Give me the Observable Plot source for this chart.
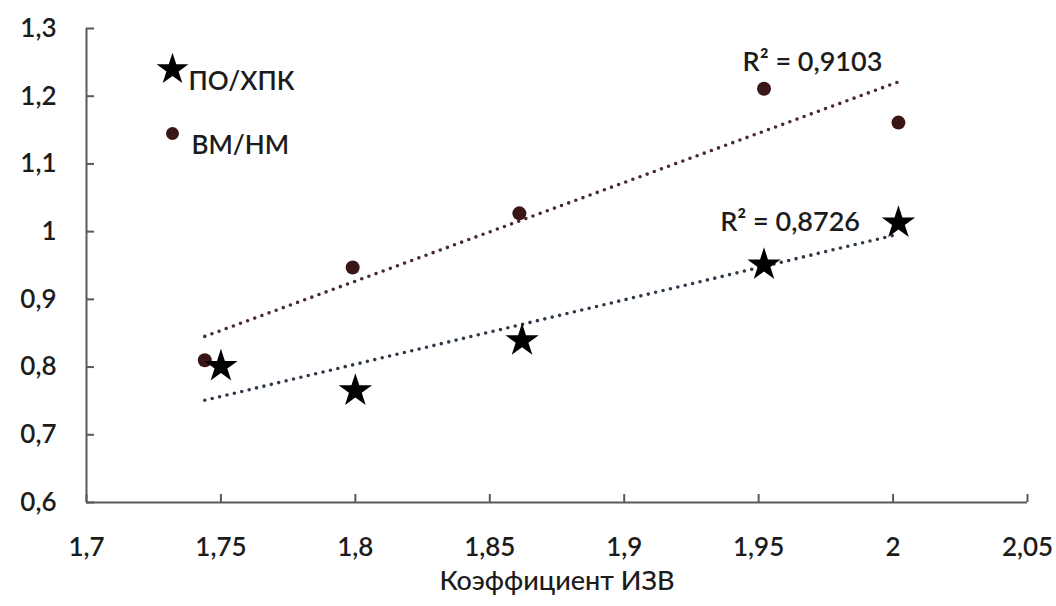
<!DOCTYPE html>
<html><head><meta charset="utf-8">
<script src="https://cdn.jsdelivr.net/npm/d3@7"></script>
<script src="https://cdn.jsdelivr.net/npm/@observablehq/plot@0.6"></script>
<style>body{margin:0;background:#fff}</style>
</head><body><div id="chart"></div>
<script>
// Data
const seriesNames = ["ПО/ХПК", "ВМ/НМ"];
const xPO = [1.750, 1.800, 1.862, 1.952, 2.002];
const yPO = [0.801, 0.765, 0.839, 0.951, 1.013];
const xBM = [1.744, 1.799, 1.861, 1.952, 2.002];
const yBM = [0.810, 0.947, 1.027, 1.211, 1.161];
const r2Labels = ["R² = 0,9103", "R² = 0,8726"];
const xTicks = [1.7, 1.75, 1.8, 1.85, 1.9, 1.95, 2, 2.05];
const yTicks = [0.6, 0.7, 0.8, 0.9, 1, 1.1, 1.2, 1.3];
const xLabel = "Коэффициент ИЗВ";

const po = xPO.map((x, i) => ({x, y: yPO[i]}));
const bm = xBM.map((x, i) => ({x, y: yBM[i]}));

function fit(pts, x0, x1) {
  const mx = d3.mean(pts, d => d.x), my = d3.mean(pts, d => d.y);
  const sxy = d3.sum(pts, d => (d.x - mx) * (d.y - my));
  const sxx = d3.sum(pts, d => (d.x - mx) ** 2);
  const b = sxy / sxx, a = my - b * mx;
  return [x0, x1].map(x => ({x, y: a + b * x}));
}
const x0 = Math.min(d3.min(xPO), d3.min(xBM));
const x1 = Math.max(d3.max(xPO), d3.max(xBM));
const trendBM = fit(bm, x0, x1);
const trendPO = fit(po, x0, x1);

const fmt = d => String(d).replace(".", ",");
const font = "Lato, 'Open Sans', sans-serif";
const axisColor = "#595959";
const textColor = "#1c1c1c";

const chart = Plot.plot({
  width: 1056, height: 606,
  marginLeft: 86, marginRight: 29, marginTop: 28, marginBottom: 104,
  style: {fontFamily: font, background: "#fff", color: textColor, fontWeight: 600},
  x: {domain: [1.7, 2.05]},
  y: {domain: [0.6, 1.3]},
  marks: [
    Plot.axisX({ticks: xTicks, tickFormat: fmt, tickSize: -8, tickPadding: 43, fontSize: 26, fontWeight: 600, stroke: axisColor, strokeWidth: 2, fill: textColor, label: null}),
    Plot.axisY({ticks: yTicks, tickFormat: fmt, tickSize: -8, tickPadding: 38, fontSize: 26, fontWeight: 600, stroke: axisColor, strokeWidth: 2, fill: textColor, label: null}),
    Plot.ruleY([0.6], {stroke: axisColor, strokeWidth: 2}),
    Plot.ruleX([1.7], {stroke: axisColor, strokeWidth: 2}),
    Plot.text([xLabel], {frameAnchor: "bottom", dy: 87, fontSize: 27, fontWeight: 500, fill: textColor}),
    Plot.line(trendBM, {x: "x", y: "y", stroke: "#4a2a2a", strokeWidth: 3.6, strokeDasharray: "0 7.6", strokeLinecap: "round"}),
    Plot.line(trendPO, {x: "x", y: "y", stroke: "#2e3a48", strokeWidth: 3.6, strokeDasharray: "0 7.6", strokeLinecap: "round"}),
    Plot.dot(bm, {x: "x", y: "y", r: 7, fill: "#3a1616"}),
    Plot.dot(po, {x: "x", y: "y", r: 10.5, symbol: "star", fill: "#000"}),
    Plot.text([r2Labels[0]], {x: 1.970, y: 1.25, fontSize: 27, fontWeight: 600, fill: textColor}),
    Plot.text([r2Labels[1]], {x: 1.9617, y: 1.0136, fontSize: 27, fontWeight: 600, fill: textColor}),
    // legend
    Plot.dot([0], {frameAnchor: "top-left", dx: 86, dy: 41, r: 10, symbol: "star", fill: "#000"}),
    Plot.text([seriesNames[0]], {frameAnchor: "top-left", dx: 102, dy: 43, textAnchor: "start", fontSize: 26, fontWeight: 600, fill: textColor}),
    Plot.dot([0], {frameAnchor: "top-left", dx: 86, dy: 105, r: 6.5, fill: "#3a1616"}),
    Plot.text([seriesNames[1]], {frameAnchor: "top-left", dx: 105, dy: 107, textAnchor: "start", fontSize: 26, fontWeight: 600, fill: textColor})
  ]
});
document.getElementById("chart").appendChild(chart);
</script></body></html>
